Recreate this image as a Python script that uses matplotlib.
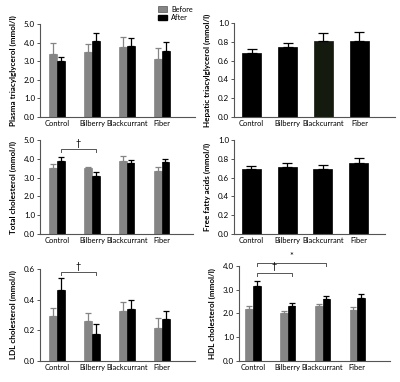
import numpy as np
import matplotlib.pyplot as plt
from matplotlib.patches import Patch

plt.rcParams['font.family'] = ['Lato', 'DejaVu Sans']

groups = ['Control', 'Bilberry', 'Blackcurrant', 'Fiber']

# plasma triacylglycerol (mmol/l)
tag_before = [3.39, 3.52, 3.75, 3.11]
tag_before_err = [0.57, 0.41, 0.54, 0.59]
tag_after = [3.00, 4.07, 3.84, 3.54]
tag_after_err = [0.25, 0.47, 0.39, 0.51]

# hepatic triacylglycerol
hep = [0.677, 0.741, 0.805, 0.805]
hep_err = [0.05, 0.046, 0.092, 0.095]

# total cholesterol
tc_before = [3.49, 3.49, 3.88, 3.37]
tc_before_err = [0.22, 0.09, 0.25, 0.19]
tc_after = [3.90, 3.07, 3.78, 3.81]
tc_after_err = [0.18, 0.21, 0.17, 0.18]

# free fatty acids
ffa = [0.688, 0.713, 0.688, 0.759]
ffa_err = [0.039, 0.042, 0.042, 0.051]

# LDL cholesterol
ldl_before = [0.293, 0.263, 0.328, 0.213]
ldl_before_err = [0.05, 0.048, 0.055, 0.065]
ldl_after = [0.463, 0.178, 0.337, 0.272]
ldl_after_err = [0.076, 0.065, 0.059, 0.054]

# HDL cholesterol
hdl_before = [2.21, 2.04, 2.31, 2.15]
hdl_before_err = [0.10, 0.07, 0.10, 0.13]
hdl_after = [3.15, 2.32, 2.59, 2.66]
hdl_after_err = [0.22, 0.14, 0.14, 0.15]

gray = '#858585'
axcol = '#555555'
w = 0.22

fig = plt.figure(figsize=(4, 3.82), dpi=100)


def style(ax, ylab, yticks, xlim):
    for s in ['top', 'right']:
        ax.spines[s].set_visible(False)
    for s in ['left', 'bottom']:
        ax.spines[s].set_color(axcol)
        ax.spines[s].set_linewidth(0.8)
    ax.set_ylim(yticks[0], yticks[-1])
    ax.set_yticks(yticks)
    ax.set_yticklabels(['%.1f' % t for t in yticks])
    ax.set_xlim(*xlim)
    ax.set_xticks(np.arange(4))
    ax.set_xticklabels(groups)
    ax.tick_params(axis='y', length=2.5, width=0.7, labelsize=5.8, pad=1, color=axcol)
    ax.tick_params(axis='x', length=0, labelsize=5.4, pad=2)
    ax.set_ylabel(ylab, fontsize=5.9, fontweight='bold', labelpad=5)


def paired(ax, b, be, a, ae):
    x = np.arange(4)
    ax.bar(x - w / 2, b, w, color=gray, edgecolor=gray, linewidth=0.5)
    ax.bar(x + w / 2, a, w, color='black', edgecolor='black', linewidth=0.5)
    ax.errorbar(x - w / 2, b, yerr=[np.zeros(4), be], fmt='none', ecolor=gray,
                elinewidth=0.9, capsize=2.5, capthick=0.9)
    ax.errorbar(x + w / 2, a, yerr=[np.zeros(4), ae], fmt='none', ecolor='black',
                elinewidth=0.9, capsize=2.5, capthick=0.9)


def single(ax, v, e, colors):
    x = np.arange(4)
    ax.bar(x, v, 0.53, color=colors, edgecolor=colors, linewidth=0.5)
    ax.errorbar(x, v, yerr=[np.zeros(4), e], fmt='none', ecolor='black',
                elinewidth=0.9, capsize=3.5, capthick=0.9)


def bracket(ax, x0, x1, y, drop, sym):
    ax.plot([x0, x0, x1, x1], [y - drop, y, y, y - drop], color=axcol, lw=0.7,
            clip_on=False)
    ax.text((x0 + x1) / 2, y + drop * 0.5, sym, ha='center', va='bottom', fontsize=6.5)


ax1 = fig.add_axes([0.1, 0.694, 0.3875, 0.243])
paired(ax1, tag_before, tag_before_err, tag_after, tag_after_err)
style(ax1, 'Plasma triacylglycerol (mmol/l)', [0, 1, 2, 3, 4, 5], (-0.49, 3.94))
ax1.legend(handles=[Patch(facecolor=gray, edgecolor=axcol, lw=0.5, label='Before'),
                    Patch(facecolor='black', edgecolor='black', label='After')],
           loc='upper left', bbox_to_anchor=(0.74, 1.23), fontsize=5.3, frameon=False,
           handlelength=1.3, handleheight=0.8, labelspacing=0.2, borderaxespad=0,
           handletextpad=0.5)

ax2 = fig.add_axes([0.585, 0.694, 0.4025, 0.246])
single(ax2, hep, hep_err, ['black', 'black', '#141a0e', 'black'])
style(ax2, 'Hepatic triacylglycerol (mmol/l)', [0, 0.2, 0.4, 0.6, 0.8, 1.0], (-0.49, 3.99))

ax3 = fig.add_axes([0.1, 0.3874, 0.3825, 0.2461])
paired(ax3, tc_before, tc_before_err, tc_after, tc_after_err)
style(ax3, 'Total cholesterol (mmol/l)', [0, 1, 2, 3, 4, 5], (-0.49, 3.9))
bracket(ax3, 0 + w / 2, 1 + w / 2, 4.52, 0.14, '†')

ax4 = fig.add_axes([0.585, 0.3874, 0.3775, 0.2461])
single(ax4, ffa, ffa_err, 'black')
style(ax4, 'Free fatty acids (mmol/l)', [0, 0.2, 0.4, 0.6, 0.8, 1.0], (-0.49, 3.74))

ax5 = fig.add_axes([0.1, 0.055, 0.3875, 0.2408])
paired(ax5, ldl_before, ldl_before_err, ldl_after, ldl_after_err)
style(ax5, 'LDL cholesterol (mmol/l)', [0, 0.2, 0.4, 0.6], (-0.49, 3.94))
bracket(ax5, 0 + w / 2, 1 + w / 2, 0.578, 0.017, '†')

ax6 = fig.add_axes([0.5975, 0.055, 0.3775, 0.2487])
paired(ax6, hdl_before, hdl_before_err, hdl_after, hdl_after_err)
style(ax6, 'HDL cholesterol (mmol/l)', [0, 1, 2, 3, 4], (-0.4, 3.94))
bracket(ax6, 0 + w / 2, 1 + w / 2, 3.71, 0.14, '†')
bracket(ax6, 0 + w / 2, 2 + w / 2, 4.14, 0.12, '*')

fig.savefig('out.png', dpi=100)
